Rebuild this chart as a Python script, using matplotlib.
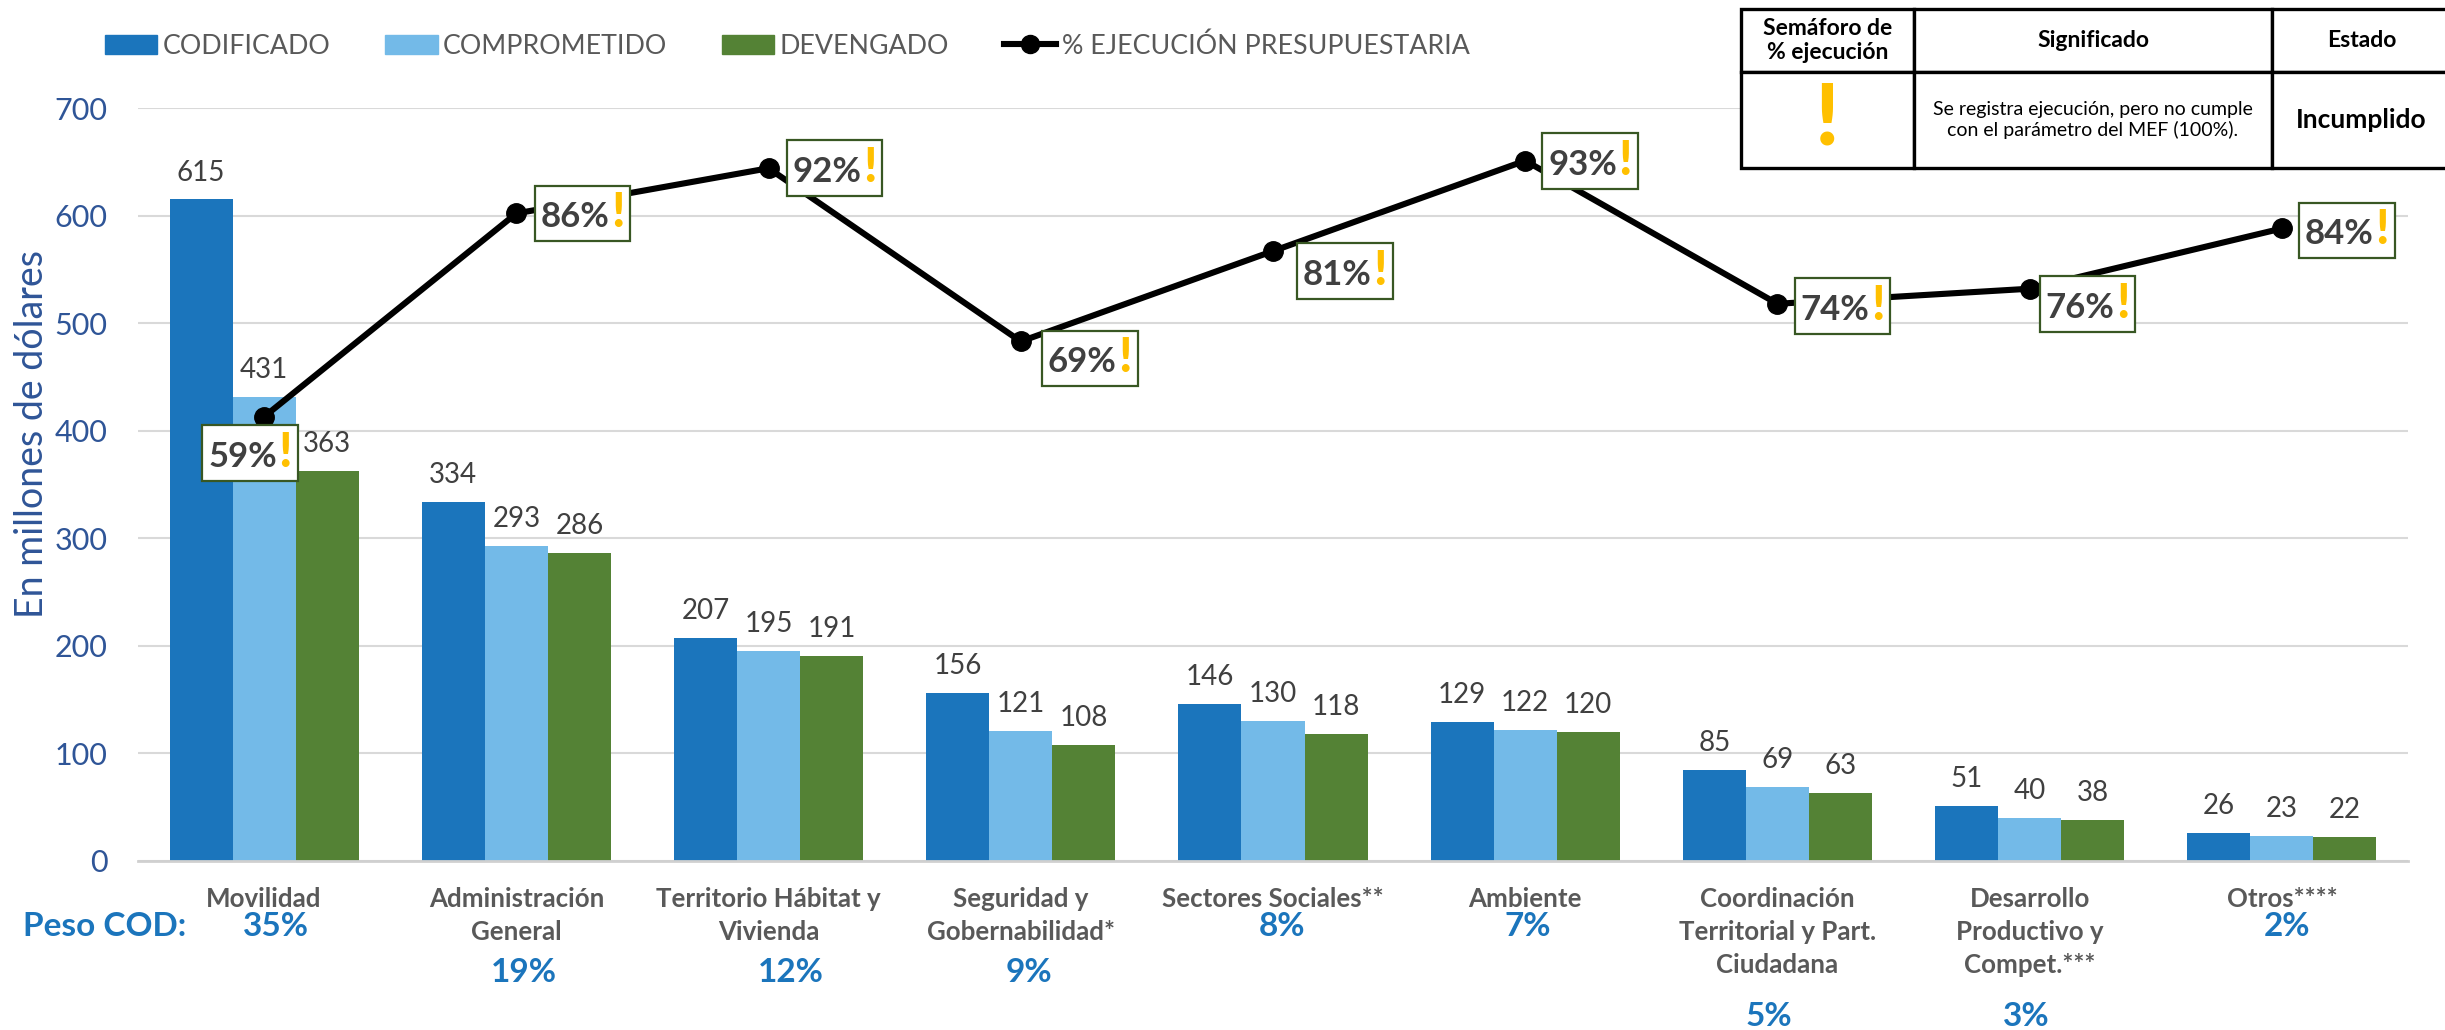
from matplotlib import pyplot as plt
from matplotlib.offsetbox import AnnotationBbox, HPacker, TextArea
from matplotlib.patches import Patch
from matplotlib.lines import Line2D
import numpy as np

plt.rcParams['font.family'] = ['Lato', 'DejaVu Sans']

categorias = ['Movilidad', 'Administración\nGeneral', 'Territorio Hábitat y\nVivienda',
              'Seguridad y\nGobernabilidad*', 'Sectores Sociales**', 'Ambiente',
              'Coordinación\nTerritorial y Part.\nCiudadana', 'Desarrollo\nProductivo y\nCompet.***',
              'Otros****']
codificado = [615, 334, 207, 156, 146, 129, 85, 51, 26]
comprometido = [431, 293, 195, 121, 130, 122, 69, 40, 23]
devengado = [363, 286, 191, 108, 118, 120, 63, 38, 22]
ejecucion = [59, 86, 92, 69, 81, 93, 74, 76, 84]
peso = [35, 19, 12, 9, 8, 7, 5, 3, 2]

# offsets in pixels, from the point
caja_dx = [-14, 66, 66, 69, 72, 65, 65, 58, 65]
caja_dy = [-36, 0, 0, -17, -20, 0, -2, -15, -2]
peso_dx = [12, 8, 22, 8, 9, 3, -9, -3, 5]
peso_dy = [-66, -112, -112, -112, -66, -66, -156, -156, -66]

AZUL = '#1b75bc'
CELESTE = '#73bae8'
VERDE = '#548235'
GRIS = '#404040'
AMARILLO = '#ffc000'
W, H = 2445, 1030

fig = plt.figure(figsize=(W / 100, H / 100), dpi=100)
ax = fig.add_axes([138 / W, (H - 861) / H, 2270 / W, 753 / H])

x = np.arange(len(categorias))
ancho = 0.25
for off, vals, col in [(-ancho, codificado, AZUL), (0, comprometido, CELESTE), (ancho, devengado, VERDE)]:
    bars = ax.bar(x + off, vals, ancho, color=col, zorder=2)
    ax.bar_label(bars, padding=10, fontsize=20, color=GRIS)

ax.set_xlim(-0.5, 8.5)
ax.set_ylim(0, 700)
ax.set_yticks(range(0, 701, 100))
ax.grid(axis='y', color='#d9d9d9', lw=1.5, zorder=0)
ax.set_axisbelow(True)
for s in ['top', 'left', 'right']:
    ax.spines[s].set_visible(False)
ax.spines['bottom'].set_color('#d0d0d0')
ax.spines['bottom'].set_linewidth(2)
ax.tick_params(axis='y', length=0, labelsize=22, labelcolor='#2f5597', pad=22)
ax.tick_params(axis='x', length=0, pad=19)
ax.set_xticks(x)
ax.set_xticklabels(categorias, fontsize=18.6, fontweight='bold', color='#595959', linespacing=1.45, va='top')
ax.set_ylabel('En millones de dólares', fontsize=27, color='#2f5597', labelpad=3, y=0.567)

ax2 = ax.twinx()
ax2.set_ylim(0, 100)
ax2.axis('off')
ax2.plot(x, ejecucion, color='black', lw=4.4, marker='o', ms=14, zorder=3)

for i, v in enumerate(ejecucion):
    txt = TextArea(f'{v}%', textprops=dict(fontsize=25, fontweight='bold', color=GRIS))
    excl = TextArea('!', textprops=dict(fontsize=34, fontweight=900, color=AMARILLO))
    caja = HPacker(children=[txt, excl], align='baseline', pad=0, sep=1)
    ab = AnnotationBbox(caja, (x[i], v), xybox=(caja_dx[i], caja_dy[i]), xycoords='data',
                        boxcoords='offset pixels', pad=0.42, zorder=5,
                        bboxprops=dict(edgecolor='#385723', facecolor='white', lw=1.6))
    ax2.add_artist(ab)

    ax.annotate(f'{peso[i]}%', xy=(x[i], 0), xycoords=('data', 'axes fraction'), xytext=(peso_dx[i], peso_dy[i]),
                textcoords='offset pixels', ha='center', va='center', fontsize=24, fontweight='bold',
                color=AZUL, annotation_clip=False)

fig.text(105 / W, (H - 926) / H, 'Peso COD:', ha='center', va='center', fontsize=24,
         fontweight='bold', color=AZUL)

handles = [Patch(color=AZUL), Patch(color=CELESTE), Patch(color=VERDE),
           Line2D([], [], color='black', lw=4.4, marker='o', ms=13)]
etiquetas = ['CODIFICADO', 'COMPROMETIDO', 'DEVENGADO', '% EJECUCIÓN PRESUPUESTARIA']
fig.legend(handles, etiquetas, ncols=4, loc='center left', bbox_to_anchor=(105 / W, (H - 46) / H), frameon=False,
           fontsize=19.3, labelcolor='#595959', handlelength=1.95, handleheight=0.7, handletextpad=0.2,
           columnspacing=2.05, borderpad=0, borderaxespad=0)

# tabla del semaforo
axt = fig.add_axes([1741 / W, (H - 168) / H, 710 / W, 159 / H])
axt.axis('off')
filas = [['Semáforo de\n% ejecución', 'Significado', 'Estado'],
         ['!', 'Se registra ejecución, pero no cumple\ncon el parámetro del MEF (100%).', 'Incumplido']]
tabla = axt.table(cellText=filas, cellLoc='center', colWidths=[173 / 710, 358 / 710, 179 / 710],
                  bbox=[0, 0, 1, 1])
tabla.auto_set_font_size(False)
for (f, c), celda in tabla.get_celld().items():
    celda.set_linewidth(2.4)
    celda.set_edgecolor('black')
    celda.set_height((63 if f == 0 else 96) / 159)
    celda.get_text().set_color('black')
    if f == 0:
        celda.get_text().set_fontsize(16.5)
        celda.get_text().set_fontweight('bold')
    else:
        celda.get_text().set_fontsize(14)
tabla[(1, 0)].get_text().set_fontsize(62)
tabla[(1, 0)].get_text().set_color(AMARILLO)
tabla[(1, 0)].get_text().set_fontweight(900)
tabla[(1, 2)].get_text().set_fontsize(19)
tabla[(1, 2)].get_text().set_fontweight('bold')

plt.savefig('out.png', dpi=100)
